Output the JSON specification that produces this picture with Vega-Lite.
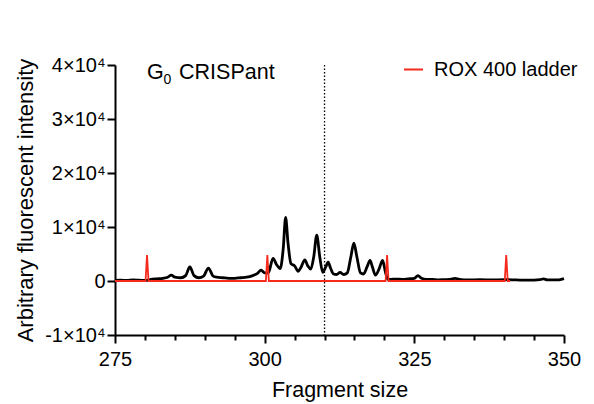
{
  "$schema": "https://vega.github.io/schema/vega-lite/v6.json",
  "width": 449,
  "height": 270,
  "autosize": "none",
  "padding": {"left": 115, "top": 65, "right": 30, "bottom": 69},
  "background": "white",
  "config": {
    "view": {"stroke": null},
    "font": "Liberation Sans",
    "axis": {"domainColor": "black", "tickColor": "black", "labelColor": "black", "titleColor": "black", "grid": false, "labelFont": "Liberation Sans", "titleFont": "Liberation Sans", "titleFontWeight": "normal", "labelFlush": false}
  },
  "datasets": {
    "trace": [
      {"size": 275, "intensity": 100}, {"size": 276, "intensity": 150}, {"size": 277, "intensity": 100},
      {"size": 278, "intensity": 200}, {"size": 279, "intensity": 150}, {"size": 280, "intensity": 100},
      {"size": 280.5, "intensity": 150}, {"size": 281, "intensity": 300}, {"size": 282, "intensity": 400},
      {"size": 283, "intensity": 500}, {"size": 283.8, "intensity": 700}, {"size": 284.4, "intensity": 1100},
      {"size": 285, "intensity": 700}, {"size": 286, "intensity": 600}, {"size": 286.8, "intensity": 1000},
      {"size": 287.5, "intensity": 2600}, {"size": 288.2, "intensity": 1000}, {"size": 289, "intensity": 600},
      {"size": 289.8, "intensity": 900}, {"size": 290.6, "intensity": 2400}, {"size": 291.4, "intensity": 900},
      {"size": 292, "intensity": 700}, {"size": 293, "intensity": 600}, {"size": 294, "intensity": 500},
      {"size": 295, "intensity": 500}, {"size": 296, "intensity": 600}, {"size": 297, "intensity": 700},
      {"size": 298, "intensity": 1000}, {"size": 298.8, "intensity": 1400}, {"size": 299.4, "intensity": 2000},
      {"size": 300, "intensity": 1500}, {"size": 300.6, "intensity": 1500}, {"size": 301.4, "intensity": 4200},
      {"size": 302, "intensity": 3000}, {"size": 302.6, "intensity": 2300}, {"size": 303.1, "intensity": 6000},
      {"size": 303.5, "intensity": 11800}, {"size": 303.9, "intensity": 7000}, {"size": 304.4, "intensity": 3200},
      {"size": 305.0, "intensity": 2800}, {"size": 305.6, "intensity": 1800}, {"size": 306.1, "intensity": 2600},
      {"size": 306.7, "intensity": 3900}, {"size": 307.2, "intensity": 2800}, {"size": 307.7, "intensity": 2200},
      {"size": 308.2, "intensity": 4500}, {"size": 308.7, "intensity": 8500}, {"size": 309.2, "intensity": 4500},
      {"size": 309.7, "intensity": 1600}, {"size": 310.2, "intensity": 2600}, {"size": 310.6, "intensity": 3500},
      {"size": 311.0, "intensity": 2400}, {"size": 311.5, "intensity": 1300}, {"size": 312.0, "intensity": 1200},
      {"size": 312.6, "intensity": 1600}, {"size": 313.2, "intensity": 1200}, {"size": 313.8, "intensity": 1500},
      {"size": 314.4, "intensity": 4500}, {"size": 314.9, "intensity": 7000}, {"size": 315.4, "intensity": 4500},
      {"size": 316.0, "intensity": 1500}, {"size": 316.5, "intensity": 1300}, {"size": 317.1, "intensity": 2600},
      {"size": 317.6, "intensity": 3800}, {"size": 318.0, "intensity": 2600}, {"size": 318.5, "intensity": 1100},
      {"size": 319.1, "intensity": 2200}, {"size": 319.7, "intensity": 3800}, {"size": 320.2, "intensity": 1500},
      {"size": 320.6, "intensity": 300}, {"size": 321, "intensity": 300}, {"size": 322, "intensity": 350},
      {"size": 323, "intensity": 300}, {"size": 324, "intensity": 400}, {"size": 325, "intensity": 500},
      {"size": 325.6, "intensity": 1000}, {"size": 326.2, "intensity": 500}, {"size": 327, "intensity": 300},
      {"size": 328, "intensity": 300}, {"size": 329, "intensity": 200}, {"size": 330, "intensity": 250},
      {"size": 331, "intensity": 300}, {"size": 331.8, "intensity": 500}, {"size": 332.5, "intensity": 300},
      {"size": 334, "intensity": 200}, {"size": 336, "intensity": 250}, {"size": 338, "intensity": 200},
      {"size": 340, "intensity": 250}, {"size": 342, "intensity": 200}, {"size": 344, "intensity": 150},
      {"size": 346, "intensity": 250}, {"size": 346.6, "intensity": 400}, {"size": 347.2, "intensity": 200},
      {"size": 348, "intensity": 200}, {"size": 349, "intensity": 200}, {"size": 349.5, "intensity": 300},
      {"size": 350, "intensity": 450}
    ],
    "ladder": [
      {"size": 275, "intensity": 0}, {"size": 280.1, "intensity": 0}, {"size": 280.35, "intensity": 4800},
      {"size": 280.6, "intensity": 0}, {"size": 300.2, "intensity": 0}, {"size": 300.45, "intensity": 4800},
      {"size": 300.7, "intensity": 0}, {"size": 320.2, "intensity": 0}, {"size": 320.45, "intensity": 4800},
      {"size": 320.7, "intensity": 0}, {"size": 340.1, "intensity": 0}, {"size": 340.35, "intensity": 4800},
      {"size": 340.6, "intensity": 0}, {"size": 341, "intensity": 0}
    ],
    "one": [{}]
  },
  "layer": [
    {
      "data": {"name": "trace"},
      "mark": {"type": "line", "color": "black", "strokeWidth": 2.8, "interpolate": "monotone"},
      "encoding": {
        "x": {"field": "size", "type": "quantitative", "scale": {"domain": [275, 350], "nice": false, "zero": false},
          "axis": {"values": [275, 280, 285, 290, 295, 300, 305, 310, 315, 320, 325, 330, 335, 340, 345, 350], "tickCount": 100, "labelExpr": "datum.value % 25 === 0 ? datum.label : ''", "labelOverlap": false, "labelBound": false, "tickSize": {"condition": {"test": "datum.value % 25 === 0", "value": 8}, "value": 5}, "labelFontSize": 20, "labelPadding": 6, "tickWidth": 2, "domainWidth": 2, "title": "Fragment size", "titleFontSize": 21.5, "titlePadding": 10}},
        "y": {"field": "intensity", "type": "quantitative", "scale": {"domain": [-10000, 40000], "nice": false, "zero": false},
          "axis": {"values": [-10000, 0, 10000, 20000, 30000, 40000], "tickCount": 100, "labelExpr": "datum.value == 0 ? '0' : (datum.value / 10000) + '×10⁴'", "labelOverlap": false, "labelFontSize": 20, "labelPadding": 2, "tickSize": 8, "tickWidth": 2, "domainWidth": 2, "title": "Arbitrary fluorescent intensity", "titleFontSize": 22, "titlePadding": 7}}
      }
    },
    {
      "data": {"name": "ladder"},
      "mark": {"type": "line", "strokeWidth": 1.8},
      "encoding": {
        "x": {"field": "size", "type": "quantitative"},
        "y": {"field": "intensity", "type": "quantitative"},
        "color": {"datum": "ROX 400 ladder", "scale": {"range": ["#f52a1c"]},
          "legend": {"orient": "none", "legendX": 288, "legendY": -6, "title": null, "symbolType": "stroke", "symbolSize": 361, "symbolStrokeWidth": 2, "labelFontSize": 20, "labelFont": "Liberation Sans", "labelColor": "black", "labelOffset": 10, "padding": 0}}
      }
    },
    {
      "data": {"name": "one"},
      "mark": {"type": "rule", "color": "black", "strokeDash": [1.5, 2], "strokeWidth": 1.3},
      "encoding": {
        "x": {"datum": 310, "type": "quantitative"}
      }
    },
    {
      "data": {"name": "one"},
      "mark": {"type": "text", "text": "G", "align": "left", "baseline": "alphabetic", "fontSize": 21.5, "font": "Liberation Sans", "color": "black"},
      "encoding": {
        "x": {"datum": 280.35, "type": "quantitative"},
        "y": {"datum": 37400, "type": "quantitative"}
      }
    },
    {
      "data": {"name": "one"},
      "mark": {"type": "text", "text": "0", "align": "left", "baseline": "alphabetic", "fontSize": 14, "dx": 16.5, "dy": 5, "font": "Liberation Sans", "color": "black"},
      "encoding": {
        "x": {"datum": 280.35, "type": "quantitative"},
        "y": {"datum": 37400, "type": "quantitative"}
      }
    },
    {
      "data": {"name": "one"},
      "mark": {"type": "text", "text": "CRISPant", "align": "left", "baseline": "alphabetic", "fontSize": 21.5, "dx": 32, "font": "Liberation Sans", "color": "black"},
      "encoding": {
        "x": {"datum": 280.35, "type": "quantitative"},
        "y": {"datum": 37400, "type": "quantitative"}
      }
    }
  ]
}
